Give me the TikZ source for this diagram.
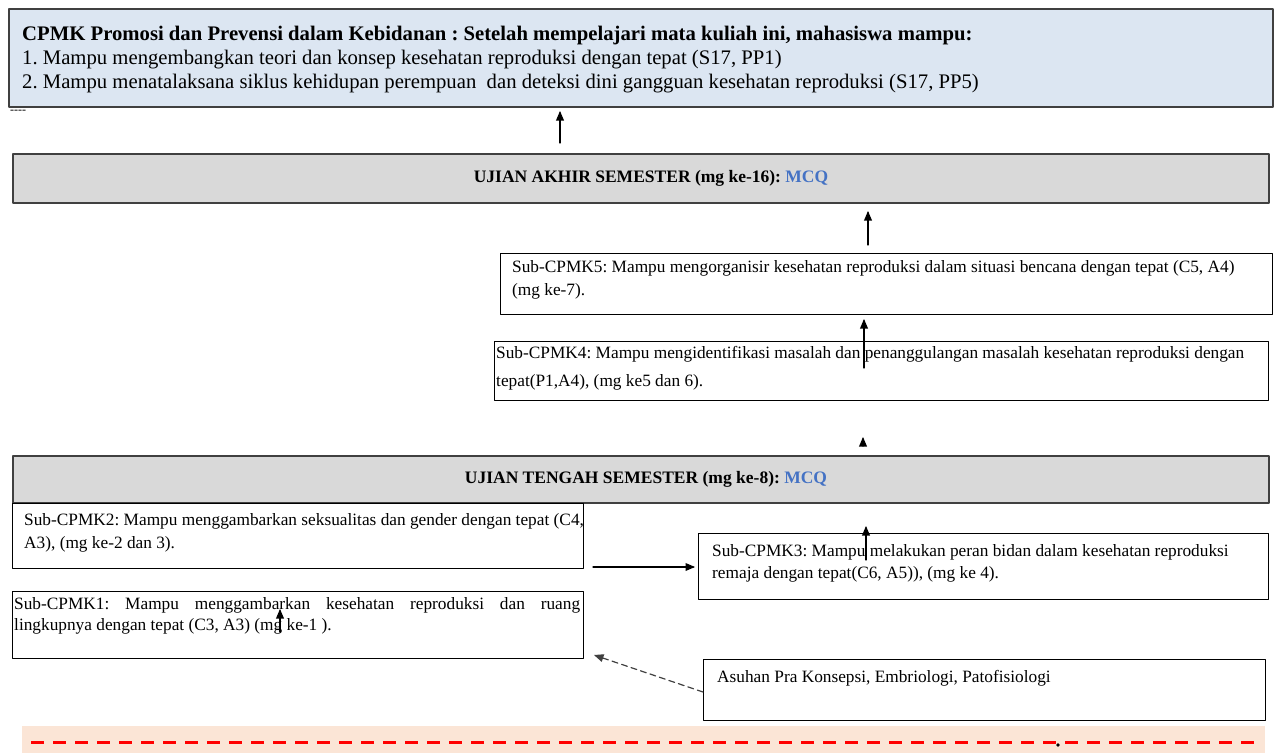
\documentclass[tikz,border=0pt]{standalone}
\usepackage{fontspec}
\setmainfont{Liberation Serif}
\usepackage{xcolor}
\usetikzlibrary{arrows,calc,positioning}
\definecolor{cpmkfill}{HTML}{DCE6F2}
\definecolor{boxline}{HTML}{404040}
\definecolor{ujianfill}{HTML}{D9D9D9}
\definecolor{mcqblue}{HTML}{4472C4}
\definecolor{bandfill}{HTML}{FBE5D6}
\definecolor{bandred}{HTML}{FF0000}
\frenchspacing
\tikzset{
  cpmkbox/.style={draw=boxline,fill=cpmkfill,line width=2pt,anchor=north west,inner sep=0pt},
  ujianbox/.style={draw=boxline,fill=ujianfill,line width=2pt,anchor=north west,inner sep=0pt,font=\fontsize{17.5}{20}\selectfont\bfseries},
  subbox/.style={draw=black,line width=1.2pt,anchor=north west,inner sep=0pt},
  subtext/.style={inner sep=0pt,align=left,font=\fontsize{17.3}{23}\selectfont},
  flow/.style={->,line width=1.2pt},
  hint/.style={->,line width=1.2pt,draw=boxline,dash pattern=on 6pt off 4pt}
}

\begin{document}
\begin{tikzpicture}[line cap=round,line join=round,>=triangle 45,x=1pt,y=-1pt]
\useasboundingbox (0,0) rectangle (1280,753);
% capaian mata kuliah
\node[cpmkbox,minimum width=1264pt,minimum height=98pt] (cpmk) at (8,8) {};
\node[subtext,font=\fontsize{20.7}{24}\selectfont,below right=18pt and 14pt of cpmk.north west] (cpmkt) {\textbf{CPMK Promosi dan Prevensi dalam Kebidanan : Setelah mempelajari mata kuliah ini, mahasiswa mampu:}\\
1. Mampu mengembangkan teori dan konsep kesehatan reproduksi dengan tepat (S17, PP1)\\
2. Mampu menatalaksana siklus kehidupan perempuan\ \ dan deteksi dini gangguan kesehatan reproduksi (S17, PP5)};
\node[anchor=north west,inner sep=0pt,font=\fontsize{12}{12}\selectfont] (garis) at (10,110) {\mbox{-}\mbox{-}\mbox{-}\mbox{-}};

% ujian akhir
\node[ujianbox,minimum width=1256pt,minimum height=49pt] (uas) at (12,153) {\hspace*{20pt}UJIAN AKHIR SEMESTER (mg ke-16): \textcolor{mcqblue}{MCQ}};

% sub-cpmk 5 dan 4
\node[subbox,minimum width=772pt,minimum height=61pt] (sub5) at (500,253) {};
\node[subtext,below right=7pt and 12pt of sub5.north west] (sub5t) {Sub-CPMK5: Mampu mengorganisir kesehatan reproduksi dalam situasi bencana dengan tepat (C5, A4)\\(mg ke-7).};
\node[subbox,minimum width=774pt,minimum height=59pt] (sub4) at (494,341) {};
\node[subtext,font=\fontsize{17.3}{28}\selectfont,below right=5pt and 2pt of sub4.north west] (sub4t) {Sub-CPMK4: Mampu mengidentifikasi masalah dan penanggulangan masalah kesehatan reproduksi dengan\\tepat(P1,A4), (mg ke5 dan 6).};

% ujian tengah
\node[ujianbox,minimum width=1256pt,minimum height=47pt] (uts) at (12,455) {\hspace*{10pt}UJIAN TENGAH SEMESTER (mg ke-8): \textcolor{mcqblue}{MCQ}};

% sub-cpmk 1, 2, 3
\node[subbox,minimum width=571pt,minimum height=65pt] (sub2) at (12,503) {};
\node[subtext,below right=10pt and 12pt of sub2.north west] (sub2t) {Sub-CPMK2: Mampu menggambarkan seksualitas dan gender dengan tepat (C4,\\A3), (mg ke-2 dan 3).};
\node[subbox,minimum width=570pt,minimum height=66pt] (sub3) at (698,533) {};
\node[subtext,font=\fontsize{17.3}{22}\selectfont,below right=11pt and 14pt of sub3.north west] (sub3t) {Sub-CPMK3: Mampu melakukan peran bidan dalam kesehatan reproduksi\\remaja dengan tepat(C6, A5)), (mg ke 4).};
\node[subbox,minimum width=571pt,minimum height=67pt] (sub1) at (12,591) {};
\node[subtext,font=\fontsize{17.3}{21}\selectfont,below right=6pt and 2pt of sub1.north west] (sub1t) {\makebox[566pt][s]{Sub-CPMK1: Mampu menggambarkan kesehatan reproduksi dan ruang}\\lingkupnya dengan tepat (C3, A3) (mg ke-1 ).};
\node[subbox,minimum width=562pt,minimum height=61pt] (asuhan) at (703,659) {};
\node[subtext,below right=11pt and 14pt of asuhan.north west] (asuhant) {Asuhan Pra Konsepsi, Embriologi, Patofisiologi};

% panah
\coordinate (a1s) at (560,143); \coordinate (a1e) at (560,111);
\draw[flow] (a1s) -- (a1e);
\coordinate (a2s) at (868,245); \coordinate (a2e) at (868,211);
\draw[flow] (a2s) -- (a2e);
\coordinate (a3s) at (864,368); \coordinate (a3e) at (864,319);
\draw[flow] (a3s) -- (a3e);
\coordinate (a4s) at (863,446); \coordinate (a4e) at (863,437);
\draw[flow] (a4s) -- (a4e);
\coordinate (a5s) at (866,560); \coordinate (a5e) at (866,526);
\draw[flow] (a5s) -- (a5e);
\coordinate (a6s) at (593,567); \coordinate (a6e) at (695,567);
\draw[flow] (a6s) -- (a6e);
\coordinate (a7s) at (280,632); \coordinate (a7e) at (280,609);
\draw[flow] (a7s) -- (a7e);
\coordinate (a8s) at (703,692); \coordinate (a8e) at (594,655);
\draw[hint] (a8s) -- (a8e);

% pita bawah
\fill[bandfill] (22,726) rectangle (1265,753);
\draw[bandred,line width=3pt,line cap=butt,dash pattern=on 13pt off 9pt] (31,742) -- (1262,742);
\fill (1058,745) circle (1.8pt);
\end{tikzpicture}
\end{document}
